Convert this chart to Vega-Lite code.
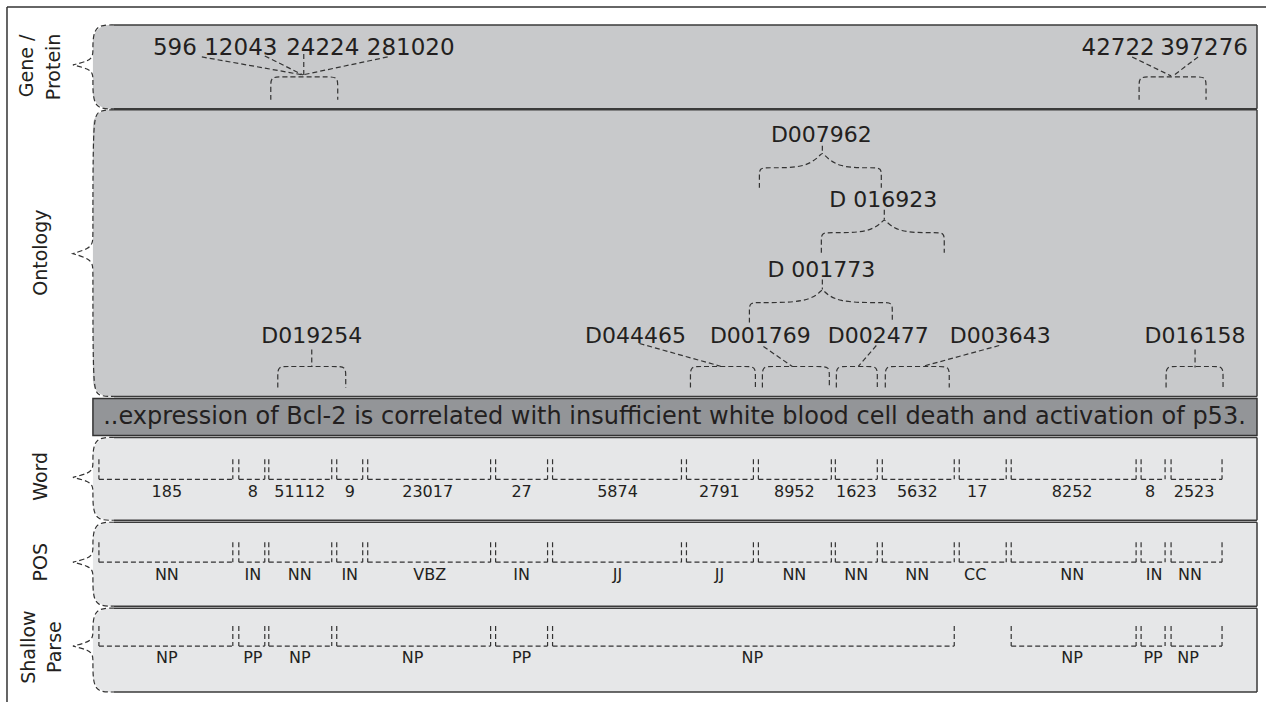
{
  "$schema": "https://vega.github.io/schema/vega-lite/v6.json",
  "width": 1267,
  "height": 703,
  "autosize": {"type": "fit", "contains": "padding"},
  "padding": 0,
  "background": "white",
  "config": {"view": {"stroke": null}, "text": {"font": "DejaVu Sans", "color": "#231f20"}},
  "datasets": {
    "panels": [
      {"panel": "Gene/Protein", "x": 93, "xs": 114, "x2": 1258, "y": 25, "y2": 109, "tone": "dark"},
      {"panel": "Ontology", "x": 93, "xs": 114, "x2": 1258, "y": 110, "y2": 397, "tone": "dark"},
      {"panel": "Word", "x": 93, "xs": 114, "x2": 1258, "y": 438, "y2": 521, "tone": "light"},
      {"panel": "POS", "x": 93, "xs": 114, "x2": 1258, "y": 523, "y2": 607, "tone": "light"},
      {"panel": "Shallow Parse", "x": 93, "xs": 114, "x2": 1258, "y": 609, "y2": 693, "tone": "light"}
    ],
    "paths": [
      {"p": "bG", "xs": [114,97,93,93,93,89,73,73,73,89,93,93,93,97,114], "ys": [25,25,37,49,56,61,65,65,65,69,74,81,97,109,109]},
      {"p": "bO", "xs": [114,97,93,93,93,89,73,73,73,89,93,93,93,97,114], "ys": [110,110,124,234,243,249,254,254,254,259,265,274,385,397,397]},
      {"p": "bW", "xs": [114,97,93,93,93,89,73,73,73,89,93,93,93,97,114], "ys": [438,438,450,462,469,474,478,478,478,482,487,494,509,521,521]},
      {"p": "bP", "xs": [114,97,93,93,93,89,73,73,73,89,93,93,93,97,114], "ys": [523,523,535,547,554,559,563,563,563,567,572,579,595,607,607]},
      {"p": "bS", "xs": [114,97,93,93,93,89,73,73,73,89,93,93,93,97,114], "ys": [609,609,621,631,638,643,647,647,647,651,656,663,681,693,693]},
      {"p": "g1", "xs": [202,303], "ys": [57,75]},
      {"p": "g2", "xs": [265,303], "ys": [56,75]},
      {"p": "g3", "xs": [304,304], "ys": [54,75]},
      {"p": "g4", "xs": [388,303], "ys": [57,75]},
      {"p": "gb1", "xs": [271,271,271,281,328,338,338,338], "ys": [100,87,77,77,77,77,87,100]},
      {"p": "g5", "xs": [1133,1172], "ys": [57,76]},
      {"p": "g6", "xs": [1199,1174], "ys": [57,76]},
      {"p": "gb2", "xs": [1140,1140,1140,1150,1197,1207,1207,1207], "ys": [100,87,77,77,77,77,87,100]},
      {"p": "o1", "xs": [760,760,760,770,808,823,823,838,872,882,882,882], "ys": [188,176,168,168,168,153,153,168,168,168,176,188]},
      {"p": "s1", "xs": [823,823], "ys": [146,153]},
      {"p": "o2", "xs": [822,822,822,832,871,885,885,899,935,945,945,945], "ys": [253,241,233,233,233,220,220,233,233,233,241,253]},
      {"p": "s2", "xs": [885,885], "ys": [210,220]},
      {"p": "o3", "xs": [750,750,750,760,809,823,823,837,883,893,893,893], "ys": [323,311,303,303,303,290,290,303,303,303,311,323]},
      {"p": "s3", "xs": [823,823], "ys": [280,290]},
      {"p": "c1", "xs": [278,278,278,288,336,346,346,346], "ys": [388,377,367,367,367,367,377,388]},
      {"p": "s4", "xs": [312,312], "ys": [350,367]},
      {"p": "c2", "xs": [691,691,691,701,746,756,756,756], "ys": [388,377,367,367,367,367,377,388]},
      {"p": "l2", "xs": [640,722], "ys": [344,367]},
      {"p": "c3", "xs": [763,763,763,773,820,830,830,830], "ys": [388,377,367,367,367,367,377,388]},
      {"p": "l3", "xs": [764,793], "ys": [347,367]},
      {"p": "c4", "xs": [837,837,837,847,868,878,878,878], "ys": [388,377,367,367,367,367,377,388]},
      {"p": "l4", "xs": [877,859], "ys": [346,367]},
      {"p": "c5", "xs": [886,886,886,896,940,950,950,950], "ys": [388,377,367,367,367,367,377,388]},
      {"p": "l5", "xs": [1000,923], "ys": [346,367]},
      {"p": "c6", "xs": [1167,1167,1167,1177,1214,1224,1224,1224], "ys": [388,377,367,367,367,367,377,388]},
      {"p": "s6", "xs": [1196,1196], "ys": [350,368]}
    ],
    "segments": [
      {"row": "Word", "x": 99, "x2": 233, "lx": 167, "t": "185", "yt": 460, "yb": 480, "ly": 498},
      {"row": "Word", "x": 239, "x2": 265, "lx": 253, "t": "8", "yt": 460, "yb": 480, "ly": 498},
      {"row": "Word", "x": 269, "x2": 332, "lx": 300, "t": "51112", "yt": 460, "yb": 480, "ly": 498},
      {"row": "Word", "x": 337, "x2": 363, "lx": 350, "t": "9", "yt": 460, "yb": 480, "ly": 498},
      {"row": "Word", "x": 368, "x2": 491, "lx": 428, "t": "23017", "yt": 460, "yb": 480, "ly": 498},
      {"row": "Word", "x": 496, "x2": 548, "lx": 522, "t": "27", "yt": 460, "yb": 480, "ly": 498},
      {"row": "Word", "x": 553, "x2": 682, "lx": 618, "t": "5874", "yt": 460, "yb": 480, "ly": 498},
      {"row": "Word", "x": 687, "x2": 754, "lx": 720, "t": "2791", "yt": 460, "yb": 480, "ly": 498},
      {"row": "Word", "x": 759, "x2": 832, "lx": 795, "t": "8952", "yt": 460, "yb": 480, "ly": 498},
      {"row": "Word", "x": 836, "x2": 878, "lx": 857, "t": "1623", "yt": 460, "yb": 480, "ly": 498},
      {"row": "Word", "x": 883, "x2": 955, "lx": 918, "t": "5632", "yt": 460, "yb": 480, "ly": 498},
      {"row": "Word", "x": 960, "x2": 1007, "lx": 978, "t": "17", "yt": 460, "yb": 480, "ly": 498},
      {"row": "Word", "x": 1012, "x2": 1137, "lx": 1073, "t": "8252", "yt": 460, "yb": 480, "ly": 498},
      {"row": "Word", "x": 1142, "x2": 1166, "lx": 1151, "t": "8", "yt": 460, "yb": 480, "ly": 498},
      {"row": "Word", "x": 1172, "x2": 1223, "lx": 1195, "t": "2523", "yt": 460, "yb": 480, "ly": 498},
      {"row": "POS", "x": 99, "x2": 233, "lx": 167, "t": "NN", "yt": 543, "yb": 563, "ly": 581},
      {"row": "POS", "x": 239, "x2": 265, "lx": 253, "t": "IN", "yt": 543, "yb": 563, "ly": 581},
      {"row": "POS", "x": 269, "x2": 332, "lx": 300, "t": "NN", "yt": 543, "yb": 563, "ly": 581},
      {"row": "POS", "x": 337, "x2": 363, "lx": 350, "t": "IN", "yt": 543, "yb": 563, "ly": 581},
      {"row": "POS", "x": 368, "x2": 491, "lx": 430, "t": "VBZ", "yt": 543, "yb": 563, "ly": 581},
      {"row": "POS", "x": 496, "x2": 548, "lx": 522, "t": "IN", "yt": 543, "yb": 563, "ly": 581},
      {"row": "POS", "x": 553, "x2": 682, "lx": 618, "t": "JJ", "yt": 543, "yb": 563, "ly": 581},
      {"row": "POS", "x": 687, "x2": 754, "lx": 720, "t": "JJ", "yt": 543, "yb": 563, "ly": 581},
      {"row": "POS", "x": 759, "x2": 832, "lx": 795, "t": "NN", "yt": 543, "yb": 563, "ly": 581},
      {"row": "POS", "x": 836, "x2": 878, "lx": 857, "t": "NN", "yt": 543, "yb": 563, "ly": 581},
      {"row": "POS", "x": 883, "x2": 955, "lx": 918, "t": "NN", "yt": 543, "yb": 563, "ly": 581},
      {"row": "POS", "x": 960, "x2": 1007, "lx": 976, "t": "CC", "yt": 543, "yb": 563, "ly": 581},
      {"row": "POS", "x": 1012, "x2": 1137, "lx": 1073, "t": "NN", "yt": 543, "yb": 563, "ly": 581},
      {"row": "POS", "x": 1142, "x2": 1166, "lx": 1155, "t": "IN", "yt": 543, "yb": 563, "ly": 581},
      {"row": "POS", "x": 1172, "x2": 1223, "lx": 1191, "t": "NN", "yt": 543, "yb": 563, "ly": 581},
      {"row": "Shallow Parse", "x": 99, "x2": 233, "lx": 167, "t": "NP", "yt": 627, "yb": 647, "ly": 664},
      {"row": "Shallow Parse", "x": 239, "x2": 265, "lx": 253, "t": "PP", "yt": 627, "yb": 647, "ly": 664},
      {"row": "Shallow Parse", "x": 269, "x2": 332, "lx": 300, "t": "NP", "yt": 627, "yb": 647, "ly": 664},
      {"row": "Shallow Parse", "x": 337, "x2": 491, "lx": 413, "t": "NP", "yt": 627, "yb": 647, "ly": 664},
      {"row": "Shallow Parse", "x": 496, "x2": 548, "lx": 522, "t": "PP", "yt": 627, "yb": 647, "ly": 664},
      {"row": "Shallow Parse", "x": 553, "x2": 955, "lx": 753, "t": "NP", "yt": 627, "yb": 647, "ly": 664},
      {"row": "Shallow Parse", "x": 1012, "x2": 1137, "lx": 1073, "t": "NP", "yt": 627, "yb": 647, "ly": 664},
      {"row": "Shallow Parse", "x": 1142, "x2": 1166, "lx": 1154, "t": "PP", "yt": 627, "yb": 647, "ly": 664},
      {"row": "Shallow Parse", "x": 1172, "x2": 1223, "lx": 1189, "t": "NP", "yt": 627, "yb": 647, "ly": 664}
    ],
    "ids": [
      {"t": "596", "x": 175, "y": 55, "k": "gene"},
      {"t": "12043", "x": 241, "y": 55, "k": "gene"},
      {"t": "24224", "x": 323, "y": 55, "k": "gene"},
      {"t": "281020", "x": 411, "y": 55, "k": "gene"},
      {"t": "42722", "x": 1119, "y": 55, "k": "gene"},
      {"t": "397276", "x": 1205, "y": 55, "k": "gene"},
      {"t": "D007962", "x": 822, "y": 142, "k": "onto"},
      {"t": "D 016923", "x": 884, "y": 207, "k": "onto"},
      {"t": "D 001773", "x": 822, "y": 277, "k": "onto"},
      {"t": "D019254", "x": 312, "y": 343, "k": "onto"},
      {"t": "D044465", "x": 636, "y": 343, "k": "onto"},
      {"t": "D001769", "x": 761, "y": 343, "k": "onto"},
      {"t": "D002477", "x": 879, "y": 343, "k": "onto"},
      {"t": "D003643", "x": 1001, "y": 343, "k": "onto"},
      {"t": "D016158", "x": 1196, "y": 343, "k": "onto"}
    ],
    "side": [
      {"t": "Gene /", "x": 27, "y": 66},
      {"t": "Protein", "x": 54, "y": 67},
      {"t": "Ontology", "x": 41, "y": 253},
      {"t": "Word", "x": 41, "y": 477},
      {"t": "POS", "x": 41, "y": 563},
      {"t": "Shallow", "x": 29, "y": 648},
      {"t": "Parse", "x": 55, "y": 648}
    ]
  },
  "layer": [
    {
      "data": {"values": [{"x": 7, "x2": 1267, "y": 7, "y2": 7}, {"x": 7, "x2": 7, "y": 7, "y2": 703}]},
      "mark": {"type": "rule", "color": "#333333", "strokeWidth": 1.5},
      "encoding": {
        "x": {"field": "x", "type": "quantitative", "scale": {"domain": [0, 1267], "nice": false, "zero": false}, "axis": null},
        "x2": {"field": "x2"},
        "y": {"field": "y", "type": "quantitative", "scale": {"domain": [0, 703], "nice": false, "zero": false, "reverse": true}, "axis": null},
        "y2": {"field": "y2"}
      }
    },
    {
      "data": {"name": "panels"},
      "mark": {"type": "rect", "cornerRadiusTopLeft": 16, "cornerRadiusBottomLeft": 16},
      "encoding": {
        "x": {"field": "x", "type": "quantitative", "scale": {"domain": [0, 1267], "nice": false, "zero": false}, "axis": null},
        "x2": {"field": "x2"},
        "y": {"field": "y", "type": "quantitative", "scale": {"domain": [0, 703], "nice": false, "zero": false, "reverse": true}, "axis": null},
        "y2": {"field": "y2"},
        "fill": {"field": "tone", "type": "nominal", "scale": {"domain": ["dark", "light"], "range": ["#c8c9cb", "#e6e7e8"]}, "legend": null}
      }
    },
    {
      "data": {"name": "panels"},
      "mark": {"type": "rule", "color": "#3a3a3a", "strokeWidth": 1.5},
      "encoding": {
        "x": {"field": "xs", "type": "quantitative", "scale": {"domain": [0, 1267], "nice": false, "zero": false}, "axis": null},
        "x2": {"field": "x2"},
        "y": {"field": "y", "type": "quantitative", "scale": {"domain": [0, 703], "nice": false, "zero": false, "reverse": true}, "axis": null}
      }
    },
    {
      "data": {"name": "panels"},
      "mark": {"type": "rule", "color": "#3a3a3a", "strokeWidth": 1.5},
      "encoding": {
        "x": {"field": "xs", "type": "quantitative", "scale": {"domain": [0, 1267], "nice": false, "zero": false}, "axis": null},
        "x2": {"field": "x2"},
        "y": {"field": "y2", "type": "quantitative", "scale": {"domain": [0, 703], "nice": false, "zero": false, "reverse": true}, "axis": null}
      }
    },
    {
      "data": {"name": "panels"},
      "mark": {"type": "rule", "color": "#3a3a3a", "strokeWidth": 1.5},
      "encoding": {
        "x": {"field": "x2", "type": "quantitative", "scale": {"domain": [0, 1267], "nice": false, "zero": false}, "axis": null},
        "y": {"field": "y", "type": "quantitative", "scale": {"domain": [0, 703], "nice": false, "zero": false, "reverse": true}, "axis": null},
        "y2": {"field": "y2"}
      }
    },
    {
      "data": {"values": [{"x": 93, "x2": 1258, "y": 399, "y2": 436}]},
      "mark": {"type": "rect", "fill": "#939598", "stroke": "#333333", "strokeWidth": 1.5},
      "encoding": {
        "x": {"field": "x", "type": "quantitative", "scale": {"domain": [0, 1267], "nice": false, "zero": false}, "axis": null},
        "x2": {"field": "x2"},
        "y": {"field": "y", "type": "quantitative", "scale": {"domain": [0, 703], "nice": false, "zero": false, "reverse": true}, "axis": null},
        "y2": {"field": "y2"}
      }
    },
    {
      "data": {"name": "paths"},
      "transform": [{"flatten": ["xs", "ys"], "as": ["px", "py"]}],
      "mark": {"type": "line", "interpolate": "basis", "strokeDash": [5, 3], "strokeWidth": 1.2, "color": "#333333"},
      "encoding": {
        "x": {"field": "px", "type": "quantitative", "scale": {"domain": [0, 1267], "nice": false, "zero": false}, "axis": null},
        "y": {"field": "py", "type": "quantitative", "scale": {"domain": [0, 703], "nice": false, "zero": false, "reverse": true}, "axis": null},
        "detail": {"field": "p", "type": "nominal"},
        "order": {"value": null}
      }
    },
    {
      "data": {"name": "segments"},
      "mark": {"type": "rule", "strokeDash": [5, 3], "strokeWidth": 1.2, "color": "#333333"},
      "encoding": {
        "x": {"field": "x", "type": "quantitative", "scale": {"domain": [0, 1267], "nice": false, "zero": false}, "axis": null},
        "y": {"field": "yt", "type": "quantitative", "scale": {"domain": [0, 703], "nice": false, "zero": false, "reverse": true}, "axis": null},
        "y2": {"field": "yb"}
      }
    },
    {
      "data": {"name": "segments"},
      "mark": {"type": "rule", "strokeDash": [5, 3], "strokeWidth": 1.2, "color": "#333333"},
      "encoding": {
        "x": {"field": "x2", "type": "quantitative", "scale": {"domain": [0, 1267], "nice": false, "zero": false}, "axis": null},
        "y": {"field": "yt", "type": "quantitative", "scale": {"domain": [0, 703], "nice": false, "zero": false, "reverse": true}, "axis": null},
        "y2": {"field": "yb"}
      }
    },
    {
      "data": {"name": "segments"},
      "mark": {"type": "rule", "strokeDash": [5, 3], "strokeWidth": 1.2, "color": "#333333"},
      "encoding": {
        "x": {"field": "x", "type": "quantitative", "scale": {"domain": [0, 1267], "nice": false, "zero": false}, "axis": null},
        "x2": {"field": "x2"},
        "y": {"field": "yb", "type": "quantitative", "scale": {"domain": [0, 703], "nice": false, "zero": false, "reverse": true}, "axis": null}
      }
    },
    {
      "data": {"name": "segments"},
      "mark": {"type": "text", "fontSize": 16, "align": "center", "baseline": "alphabetic"},
      "encoding": {
        "x": {"field": "lx", "type": "quantitative", "scale": {"domain": [0, 1267], "nice": false, "zero": false}, "axis": null},
        "y": {"field": "ly", "type": "quantitative", "scale": {"domain": [0, 703], "nice": false, "zero": false, "reverse": true}, "axis": null},
        "text": {"field": "t"}
      }
    },
    {
      "data": {"name": "ids"},
      "transform": [{"filter": "datum.k === 'gene'"}],
      "mark": {"type": "text", "fontSize": 23, "align": "center", "baseline": "alphabetic"},
      "encoding": {
        "x": {"field": "x", "type": "quantitative", "scale": {"domain": [0, 1267], "nice": false, "zero": false}, "axis": null},
        "y": {"field": "y", "type": "quantitative", "scale": {"domain": [0, 703], "nice": false, "zero": false, "reverse": true}, "axis": null},
        "text": {"field": "t"}
      }
    },
    {
      "data": {"name": "ids"},
      "transform": [{"filter": "datum.k === 'onto'"}],
      "mark": {"type": "text", "fontSize": 22, "align": "center", "baseline": "alphabetic"},
      "encoding": {
        "x": {"field": "x", "type": "quantitative", "scale": {"domain": [0, 1267], "nice": false, "zero": false}, "axis": null},
        "y": {"field": "y", "type": "quantitative", "scale": {"domain": [0, 703], "nice": false, "zero": false, "reverse": true}, "axis": null},
        "text": {"field": "t"}
      }
    },
    {
      "data": {"name": "side"},
      "mark": {"type": "text", "fontSize": 19, "align": "center", "baseline": "middle", "angle": 270},
      "encoding": {
        "x": {"field": "x", "type": "quantitative", "scale": {"domain": [0, 1267], "nice": false, "zero": false}, "axis": null},
        "y": {"field": "y", "type": "quantitative", "scale": {"domain": [0, 703], "nice": false, "zero": false, "reverse": true}, "axis": null},
        "text": {"field": "t"}
      }
    },
    {
      "data": {"values": [{"t": "..expression of Bcl-2 is correlated with insufficient white blood cell death and activation of p53.", "x": 675, "y": 425}]},
      "mark": {"type": "text", "fontSize": 24, "align": "center", "baseline": "alphabetic"},
      "encoding": {
        "x": {"field": "x", "type": "quantitative", "scale": {"domain": [0, 1267], "nice": false, "zero": false}, "axis": null},
        "y": {"field": "y", "type": "quantitative", "scale": {"domain": [0, 703], "nice": false, "zero": false, "reverse": true}, "axis": null},
        "text": {"field": "t"}
      }
    }
  ]
}
